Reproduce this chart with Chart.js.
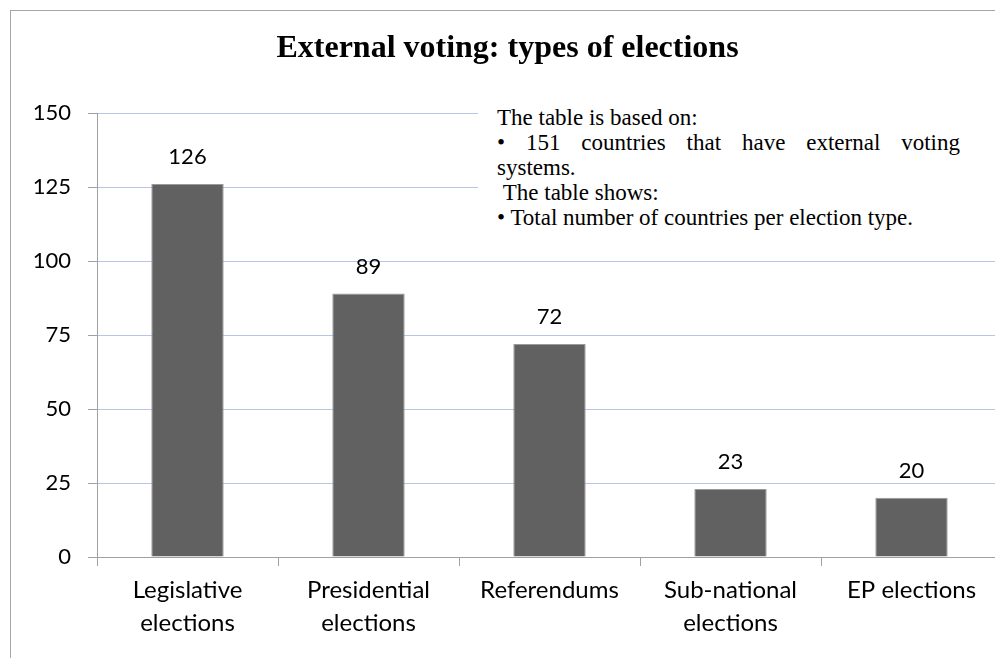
<!DOCTYPE html>
<html>
<head>
<meta charset="utf-8">
<script src="https://cdn.jsdelivr.net/npm/chart.js@4"></script>
<style>
  html, body { margin: 0; padding: 0; background: #fff; overflow: hidden; }
  #wrap { position: relative; width: 995px; height: 658px; overflow: hidden; }
  .edge { position: absolute; background: #a6a6a6; }
  #edgeLeft { left: 10px; top: 10px; width: 1px; height: 648px; }
  #edgeTop { left: 10px; top: 10px; width: 985px; height: 1px; }
  #chart { position: absolute; left: 0; top: 0; }
  #note { position: absolute; left: 478px; top: 105px; width: 517px; background: #fff;
    font-family: 'Liberation Serif', serif; font-size: 23px; line-height: 25px; color: #000;
    padding-left: 19px; box-sizing: border-box; }
  #note div { white-space: nowrap; }
  #note .just { width: 463px; white-space: normal; text-align: justify; text-align-last: justify; }
</style>
</head>
<body>
<div id="wrap">
<div class="edge" id="edgeLeft"></div>
<div class="edge" id="edgeTop"></div>
<canvas id="chart" width="1010" height="660"></canvas>
<div id="note">
  <div>The table is based on:</div>
  <div class="just">• 151 countries that have external voting</div>
  <div>systems.</div>
  <div>&nbsp;The table shows:</div>
  <div>• Total number of countries per election type.</div>
</div>
</div>
<script>
const titleText = 'External voting: types of elections';
const categories = [
  ['Legislative', 'elections'],
  ['Presidential', 'elections'],
  'Referendums',
  ['Sub-national', 'elections'],
  'EP elections'
];
const countries = [126, 89, 72, 23, 20];
const yMin = 0;
const yMax = 150;
const yStep = 25;

const axisGray = '#a0a0a0';
const gridBlue = '#b4c7e7';

// numbers above the bars
const barValues = {
  id: 'barValues',
  afterDatasetsDraw(chart) {
    const ctx = chart.ctx;
    ctx.save();
    ctx.font = '22px Lato';
    ctx.fillStyle = '#000';
    ctx.textAlign = 'center';
    ctx.textBaseline = 'middle';
    chart.getDatasetMeta(0).data.forEach((bar, i) => {
      ctx.fillText(String(countries[i]), bar.x, bar.y - 27);
    });
    ctx.restore();
  }
};

new Chart(document.getElementById('chart').getContext('2d'), {
  type: 'bar',
  data: {
    labels: categories,
    datasets: [{
      data: countries,
      backgroundColor: '#616161',
      borderColor: '#9a9a9a',
      borderWidth: 1,
      categoryPercentage: 0.4,
      barPercentage: 1
    }]
  },
  options: {
    responsive: false,
    animation: false,
    layout: { padding: { top: 0, left: 13, right: 8, bottom: 0 } },
    plugins: {
      legend: { display: false },
      tooltip: { enabled: false },
      title: {
        display: true,
        text: titleText,
        color: '#000',
        font: { family: 'Liberation Serif', size: 32, weight: 'bold', lineHeight: 1.2 },
        padding: { top: 30, bottom: 44.6 }
      }
    },
    scales: {
      x: {
        afterFit: s => { s.height = 103; },
        grid: { display: true, drawOnChartArea: false, offset: true, tickLength: 9, tickColor: axisGray },
        border: { color: axisGray, width: 1 },
        ticks: { color: '#000', font: { family: 'Lato', size: 24, lineHeight: 1.375 }, padding: 8, maxRotation: 0, autoSkip: false }
      },
      y: {
        min: yMin,
        max: yMax,
        afterFit: s => { s.width = 84; },
        grid: {
          color: ctx => ctx.tick && ctx.tick.value === 0 ? axisGray : gridBlue,
          tickLength: 9,
          tickColor: axisGray
        },
        border: { color: axisGray, width: 1 },
        ticks: { stepSize: yStep, color: '#000', font: { family: 'Lato', size: 22 }, padding: 17 }
      }
    }
  },
  plugins: [barValues]
});
</script>
</body>
</html>
